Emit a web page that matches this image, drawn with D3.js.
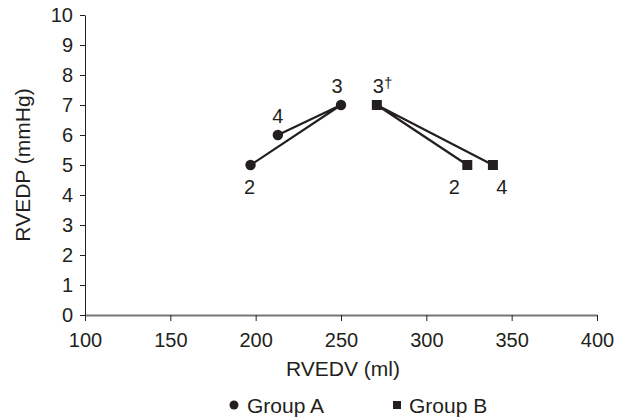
<!DOCTYPE html>
<html>
<head>
<meta charset="utf-8">
<script src="https://cdn.jsdelivr.net/npm/d3@7"></script>
<style>
  body { margin: 0; background: #fff; }
  text { font-family: "Liberation Sans", Arial, sans-serif; fill: #231f20; }
</style>
</head>
<body>
<svg id="chart" width="620" height="417"></svg>
<script>
// time points per group, in order of visit
const timeLabels = ['2', '3', '4'];
const groupAVolume = [197, 250, 213];
const groupAPressure = [5, 7, 6];
const groupBVolume = [324, 271, 339];
const groupBPressure = [5, 7, 5];
const groupBLabels = ['2', '3\u2020', '4'];
const xTicks = [100, 150, 200, 250, 300, 350, 400];
const yTicks = [0, 1, 2, 3, 4, 5, 6, 7, 8, 9, 10];

const svg = d3.select('#chart');
const numSize = 20;   // tick and point labels
const textSize = 21;  // titles and legend

const x = d3.scaleLinear().domain([100, 400]).range([85, 597]);
const y = d3.scaleLinear().domain([0, 10]).range([315, 15]);

// axes
const xAxis = svg.append('g')
    .attr('transform', `translate(0,${y(0)})`)
    .call(d3.axisBottom(x).tickValues(xTicks).tickSize(6).tickPadding(11.5).tickSizeOuter(0));
xAxis.select('.domain').attr('stroke', '#777').attr('stroke-width', 2);
xAxis.selectAll('.tick line').attr('stroke', '#231f20');
xAxis.selectAll('.tick text').attr('font-size', numSize).attr('font-family', null);

const yAxis = svg.append('g')
    .attr('transform', `translate(${x(100)},0)`)
    .call(d3.axisLeft(y).tickValues(yTicks).tickSize(5).tickPadding(7).tickSizeOuter(0));
yAxis.select('.domain').attr('stroke', '#231f20').attr('stroke-width', 1);
yAxis.selectAll('.tick line').attr('stroke', '#231f20');
yAxis.selectAll('.tick text').attr('font-size', numSize).attr('font-family', null);

// axis titles
svg.append('text')
    .attr('x', 343).attr('y', 376)
    .attr('text-anchor', 'middle')
    .attr('font-size', textSize)
    .text('RVEDV (ml)');
svg.append('text')
    .attr('transform', `translate(30,${(y(0) + y(10)) / 2}) rotate(-90)`)
    .attr('text-anchor', 'middle')
    .attr('font-size', textSize)
    .text('RVEDP (mmHg)');

const line = d3.line().x(d => x(d[0])).y(d => y(d[1]));
const groupA = d3.zip(groupAVolume, groupAPressure);
const groupB = d3.zip(groupBVolume, groupBPressure);

[groupA, groupB].forEach(pts => {
    svg.append('path')
        .attr('d', line(pts))
        .attr('fill', 'none')
        .attr('stroke', '#231f20')
        .attr('stroke-width', 2.2);
});

svg.selectAll('.ptA').data(groupA).join('circle')
    .attr('cx', d => x(d[0])).attr('cy', d => y(d[1]))
    .attr('r', 5.2).attr('fill', '#231f20');

svg.selectAll('.ptB').data(groupB).join('rect')
    .attr('x', d => x(d[0]) - 5).attr('y', d => y(d[1]) - 5)
    .attr('width', 10).attr('height', 10).attr('fill', '#231f20');

// point labels: offsets (dx, dy) relative to marker
const offsetsA = [[-1, 29], [-4, -12], [0, -12]];
const offsetsB = [[-13, 29], [1, -12], [9, 29]];

groupA.forEach((d, i) => {
    svg.append('text')
        .attr('x', x(d[0]) + offsetsA[i][0])
        .attr('y', y(d[1]) + offsetsA[i][1])
        .attr('text-anchor', 'middle')
        .attr('font-size', numSize)
        .text(timeLabels[i]);
});
groupB.forEach((d, i) => {
    const t = svg.append('text')
        .attr('x', x(d[0]) + offsetsB[i][0] - (i === 1 ? 5 : 0))
        .attr('y', y(d[1]) + offsetsB[i][1])
        .attr('text-anchor', i === 1 ? 'start' : 'middle')
        .attr('font-size', numSize);
    if (i === 1) {
        t.append('tspan').text('3');
        t.append('tspan').attr('font-size', 15).attr('dy', -5).text('\u2020');
    } else {
        t.text(groupBLabels[i]);
    }
});

// legend
const legend = svg.append('g').attr('transform', 'translate(0,406)');
legend.append('circle').attr('cx', 234).attr('cy', -1).attr('r', 4.5).attr('fill', '#231f20');
legend.append('text').attr('x', 247).attr('y', 7).attr('font-size', textSize).text('Group A');
legend.append('rect').attr('x', 393).attr('y', -5).attr('width', 8).attr('height', 8).attr('fill', '#231f20');
legend.append('text').attr('x', 409).attr('y', 7).attr('font-size', textSize).text('Group B');
</script>
</body>
</html>
